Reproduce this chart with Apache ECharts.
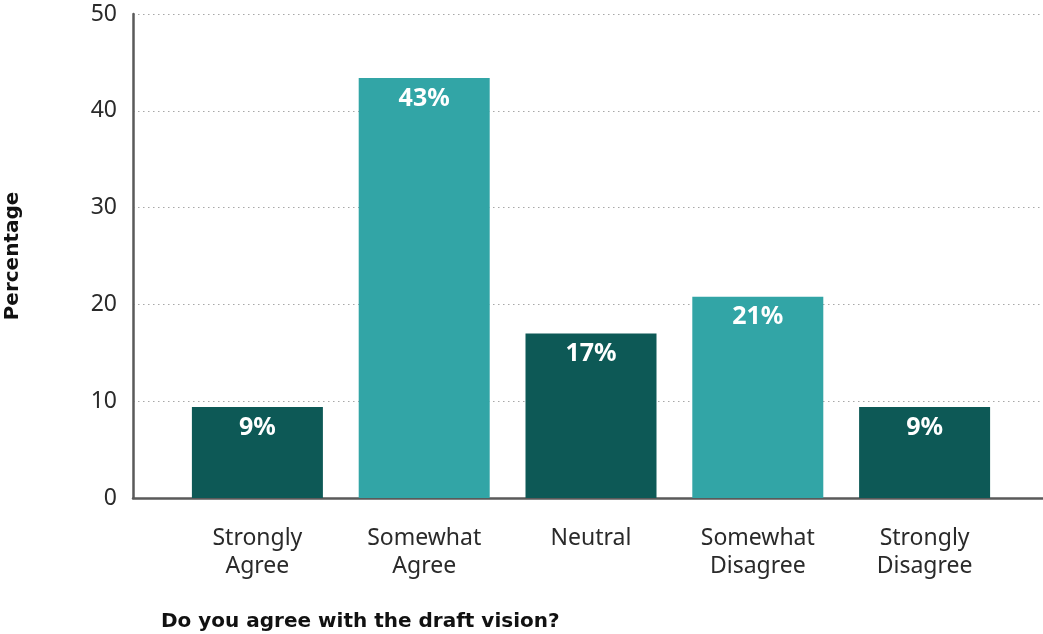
<!DOCTYPE html>
<html>
<head>
<meta charset="utf-8">
<script src="https://cdn.jsdelivr.net/npm/echarts@6/dist/echarts.min.js"></script>
<style>
  html, body { margin: 0; padding: 0; background: #ffffff; }
  #chart { width: 1043px; height: 634px; }
</style>
</head>
<body>
<div id="chart"></div>
<script>
// Survey responses: share of respondents per answer (percent)
const categories = ['Strongly\nAgree', 'Somewhat\nAgree', 'Neutral', 'Somewhat\nDisagree', 'Strongly\nDisagree'];
const values = [9.4, 43.4, 17.0, 20.8, 9.4];
const barColors = ['#0d5956', '#32a5a6', '#0d5956', '#32a5a6', '#0d5956'];
const yMin = 0, yMax = 50, yStep = 10;
const yAxisTitle = 'Percentage';
const chartTitle = 'Do you agree with the draft vision?';

const chart = echarts.init(document.getElementById('chart'));

const textFont = '"Noto Sans", "DejaVu Sans", sans-serif';

chart.setOption({
  animation: false,
  backgroundColor: '#ffffff',
  title: {
    text: chartTitle,
    left: 156,
    top: 607,
    textStyle: { fontFamily: '"DejaVu Sans", sans-serif', fontSize: 20, fontWeight: 'bold', color: '#111' }
  },
  graphic: [{
    type: 'text',
    x: 13, y: 256,
    rotation: Math.PI / 2,
    style: {
      text: yAxisTitle,
      x: 0, y: 0,
      align: 'center', verticalAlign: 'middle',
      font: 'bold 20px "DejaVu Sans", sans-serif',
      fill: '#111'
    }
  }],
  grid: [
    // frame: value axis, dotted grid lines and baseline
    { left: 133, right: 0, top: 14, bottom: 136 },
    // bars
    { left: 174, right: 35, top: 14, bottom: 136 }
  ],
  xAxis: [
    {
      gridIndex: 0, type: 'value', min: 0, max: 1,
      axisLine: { show: true, lineStyle: { color: '#5a5a5a', width: 2.5 } },
      axisTick: { show: false }, axisLabel: { show: false }, splitLine: { show: false }
    },
    {
      gridIndex: 1, type: 'category', data: categories,
      axisLine: { show: false }, axisTick: { show: false },
      axisLabel: {
        margin: 26, lineHeight: 28,
        fontFamily: textFont, fontSize: 23, color: '#2a2a2a'
      }
    }
  ],
  yAxis: [
    {
      gridIndex: 0, type: 'value', min: yMin, max: yMax, interval: yStep,
      axisLine: { show: true, lineStyle: { color: '#5a5a5a', width: 2.5 } },
      axisTick: { show: false },
      axisLabel: { margin: 16, fontFamily: textFont, fontSize: 23, color: '#2a2a2a' },
      splitLine: { show: true, lineStyle: { color: '#a8a8a8', width: 1.2, type: [1.5, 3.5] } }
    },
    {
      gridIndex: 1, type: 'value', min: yMin, max: yMax, interval: yStep,
      show: false, splitLine: { show: false }
    }
  ],
  series: [{
    type: 'bar',
    xAxisIndex: 1, yAxisIndex: 1,
    barWidth: 131,
    data: values.map((v, i) => ({ value: v, itemStyle: { color: barColors[i] } })),
    label: {
      show: true,
      position: 'insideTop',
      distance: 8,
      formatter: p => Math.round(p.value) + '%',
      fontFamily: textFont, fontWeight: 'bold', fontSize: 25, color: '#ffffff'
    }
  }]
});
</script>
</body>
</html>
